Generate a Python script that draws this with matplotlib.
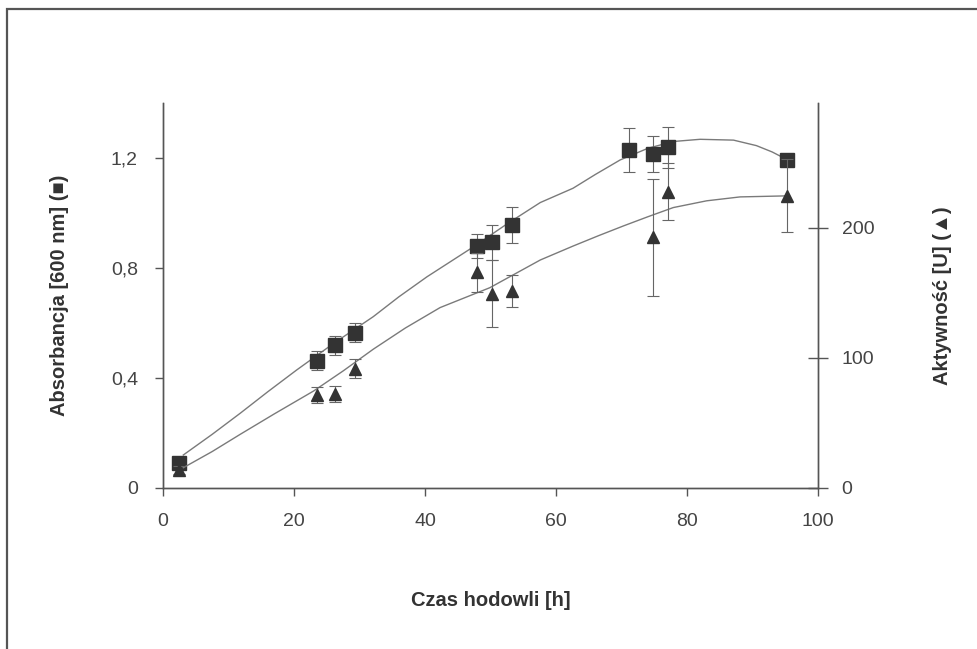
import matplotlib
matplotlib.use("Agg")
import matplotlib.pyplot as plt
from matplotlib.patches import Rectangle

plt.rcParams['font.family'] = ['Liberation Sans', 'DejaVu Sans']

# measured points
czas = [2.5, 23.5, 26.3, 29.3, 48.0, 50.3, 53.3, 71.2, 74.8, 77.1, 95.2]
absorbancja = [0.09, 0.463, 0.519, 0.565, 0.88, 0.893, 0.957, 1.229, 1.215, 1.239, 1.193]
abs_err = [0.015, 0.035, 0.035, 0.035, 0.045, 0.065, 0.065, 0.08, 0.065, 0.075, 0.0]
aktywnosc = [14, 71.5, 72.5, 91.8, 166, 149.5, 151.5, 192.6, 227.7, 224.6]
akt_czas = [2.5, 23.5, 26.3, 29.3, 48.0, 50.3, 53.3, 74.8, 77.1, 95.2]
akt_err = [3, 6, 6, 7, 15, 26, 12, 45, 22, 28]

# fitted curves
fit_abs_x = [3.1, 7.5, 11.8, 16.0, 20.4, 26.0, 32.1, 36.0, 40.3, 47.4, 52.5, 57.6, 62.6,
             66.0, 69.8, 74.0, 77.9, 82.0, 87.1, 90.6, 93.0, 95.2]
fit_abs_y = [0.12, 0.195, 0.272, 0.35, 0.429, 0.525, 0.623, 0.695, 0.768, 0.877, 0.96, 1.038, 1.09,
             1.14, 1.193, 1.235, 1.26, 1.268, 1.265, 1.245, 1.222, 1.195]
fit_akt_x = [3.1, 7.5, 11.8, 17.0, 23.0, 27.5, 32.1, 37.0, 42.3, 49.9, 57.6, 62.6,
             66.5, 70.3, 74.0, 77.9, 83.0, 88.1, 95.2]
fit_akt_y = [15.6, 28.0, 41.3, 57.0, 74.6, 90.0, 106.7, 123.0, 138.7, 154, 175.3, 186,
             194.0, 201.5, 208.5, 215.6, 220.8, 223.8, 224.6]

xticks = [0, 20, 40, 60, 80, 100]
left_ticks = [0, 0.4, 0.8, 1.2]
left_labels = ['0', '0,4', '0,8', '1,2']
right_ticks = [0, 100, 200]

axis_col = '#555555'
txt_col = '#444444'
mark_col = '#333333'
line_col = '#7a7a7a'

fig = plt.figure(figsize=(9.78, 6.49), dpi=100)
fig.patches.append(Rectangle((7 / 978, -0.01), 1.0, 1 - 9 / 649 + 0.01, transform=fig.transFigure,
                             fill=False, edgecolor='#555555', linewidth=1.6))

ax = fig.add_axes([163 / 978, 1 - 488 / 649, 655 / 978, 385 / 649])
ax2 = ax.twinx()

ax.plot(fit_abs_x, fit_abs_y, color=line_col, lw=1.0)
ax.errorbar(czas, absorbancja, yerr=abs_err, fmt='s', color=mark_col, ms=9.5,
            ecolor='#666666', elinewidth=0.8, capsize=4, capthick=0.8, zorder=3)

ax2.plot(fit_akt_x, fit_akt_y, color=line_col, lw=1.0)
ax2.errorbar(akt_czas, aktywnosc, yerr=akt_err, fmt='^', color=mark_col, ms=8,
             ecolor='#666666', elinewidth=0.8, capsize=4, capthick=0.8, zorder=3)

ax.set_xlim(0, 100)
ax.set_ylim(0, 1.4)
ax2.set_ylim(0, 296)

ax.set_xticks(xticks)
ax.set_yticks(left_ticks)
ax.set_yticklabels(left_labels)
ax2.set_yticks(right_ticks)

for a in (ax, ax2):
    a.spines['top'].set_visible(False)
    for s in a.spines.values():
        s.set_color(axis_col)
        s.set_linewidth(1.0)
    a.set_facecolor('none')

ax.tick_params(axis='both', direction='out', length=6, width=1, color=axis_col,
               labelcolor=txt_col, labelsize=14, pad=12)
ax2.tick_params(axis='y', direction='inout', length=14, width=1, color=axis_col,
                labelcolor=txt_col, labelsize=14, pad=10)

ax.set_xlabel('Czas hodowli [h]', fontsize=14.5, fontweight='bold', color='#333333', labelpad=44)
ax.set_ylabel('Absorbancja [600 nm] (■)', fontsize=14.5, fontweight='bold', color='#333333', labelpad=30)
ax2.set_ylabel('Aktywność [U] (▲)', fontsize=14.5, fontweight='bold', color='#333333', labelpad=42)

fig.savefig('out.png', dpi=100)
